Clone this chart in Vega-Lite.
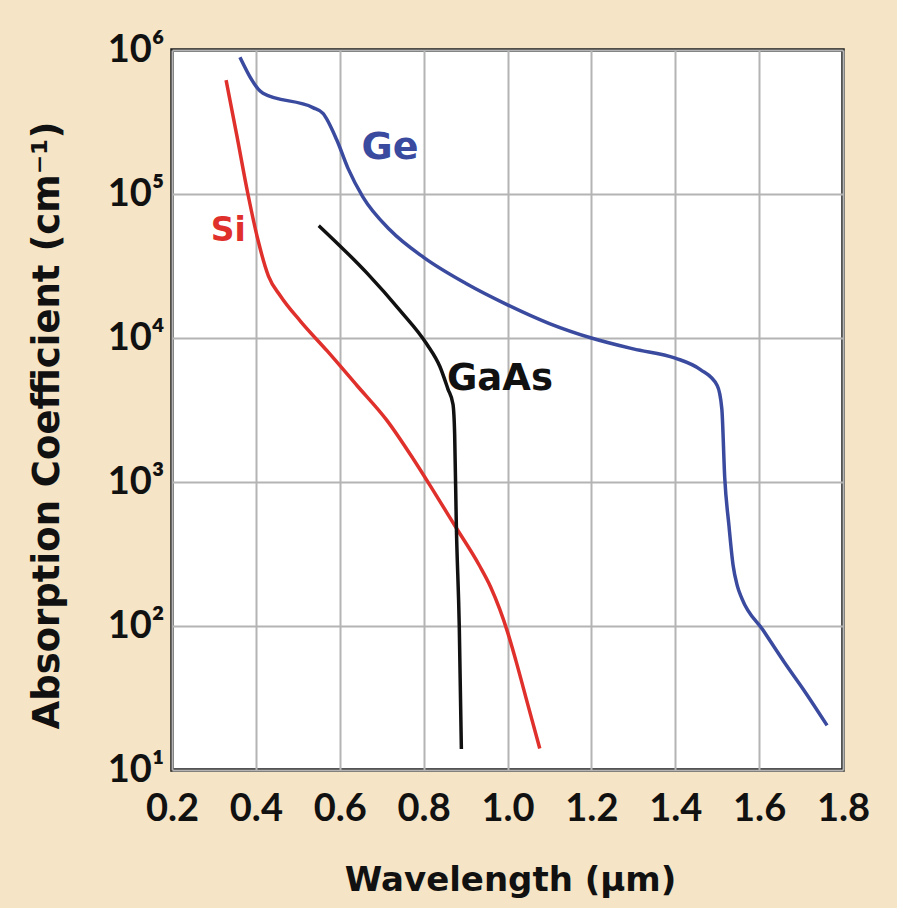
{
  "$schema": "https://vega.github.io/schema/vega-lite/v6.json",
  "width": 671,
  "height": 720,
  "autosize": {"type": "none"},
  "padding": {"left": 172, "top": 50, "right": 54, "bottom": 138},
  "background": "#f5e4c5",
  "config": {
    "view": {"stroke": "#1c1c1c", "strokeWidth": 3.5, "fill": "white"},
    "font": "Lato",
    "axis": {
      "domain": false,
      "ticks": false,
      "gridColor": "#b4b4b4",
      "gridWidth": 2,
      "labelFont": "Lato",
      "labelFontWeight": "bold",
      "labelColor": "#111111",
      "labelFlush": false,
      "labelOverlap": false,
      "titleFont": "DejaVu Sans",
      "titleFontWeight": "bold",
      "titleColor": "#111111"
    }
  },
  "datasets": {
    "curves": [
      {"material": "Ge", "wl": 0.362, "alpha": 891000},
      {"material": "Ge", "wl": 0.417, "alpha": 501000},
      {"material": "Ge", "wl": 0.536, "alpha": 398000},
      {"material": "Ge", "wl": 0.56, "alpha": 363000},
      {"material": "Ge", "wl": 0.593, "alpha": 237000},
      {"material": "Ge", "wl": 0.62, "alpha": 150000},
      {"material": "Ge", "wl": 0.655, "alpha": 95500},
      {"material": "Ge", "wl": 0.72, "alpha": 56200},
      {"material": "Ge", "wl": 0.8, "alpha": 36300},
      {"material": "Ge", "wl": 0.9, "alpha": 24000},
      {"material": "Ge", "wl": 1.0, "alpha": 17000},
      {"material": "Ge", "wl": 1.1, "alpha": 12600},
      {"material": "Ge", "wl": 1.2, "alpha": 10000},
      {"material": "Ge", "wl": 1.3, "alpha": 8400},
      {"material": "Ge", "wl": 1.4, "alpha": 7250},
      {"material": "Ge", "wl": 1.46, "alpha": 6030},
      {"material": "Ge", "wl": 1.5, "alpha": 4680},
      {"material": "Ge", "wl": 1.511, "alpha": 3240},
      {"material": "Ge", "wl": 1.518, "alpha": 1070},
      {"material": "Ge", "wl": 1.528, "alpha": 500},
      {"material": "Ge", "wl": 1.538, "alpha": 263},
      {"material": "Ge", "wl": 1.548, "alpha": 190},
      {"material": "Ge", "wl": 1.559, "alpha": 155},
      {"material": "Ge", "wl": 1.61, "alpha": 93},
      {"material": "Ge", "wl": 1.66, "alpha": 56},
      {"material": "Ge", "wl": 1.71, "alpha": 34.7},
      {"material": "Ge", "wl": 1.762, "alpha": 20.4},
      {"material": "Si", "wl": 0.329, "alpha": 617000},
      {"material": "Si", "wl": 0.355, "alpha": 251000},
      {"material": "Si", "wl": 0.381, "alpha": 100000},
      {"material": "Si", "wl": 0.405, "alpha": 47900},
      {"material": "Si", "wl": 0.43, "alpha": 26900},
      {"material": "Si", "wl": 0.459, "alpha": 19500},
      {"material": "Si", "wl": 0.507, "alpha": 13000},
      {"material": "Si", "wl": 0.57, "alpha": 8130},
      {"material": "Si", "wl": 0.641, "alpha": 4680},
      {"material": "Si", "wl": 0.712, "alpha": 2690},
      {"material": "Si", "wl": 0.775, "alpha": 1450},
      {"material": "Si", "wl": 0.823, "alpha": 871},
      {"material": "Si", "wl": 0.878, "alpha": 479},
      {"material": "Si", "wl": 0.933, "alpha": 263},
      {"material": "Si", "wl": 0.96, "alpha": 186},
      {"material": "Si", "wl": 0.981, "alpha": 132},
      {"material": "Si", "wl": 1.0, "alpha": 91},
      {"material": "Si", "wl": 1.02, "alpha": 57.5},
      {"material": "Si", "wl": 1.048, "alpha": 28.8},
      {"material": "Si", "wl": 1.077, "alpha": 14.1},
      {"material": "GaAs", "wl": 0.55, "alpha": 60300},
      {"material": "GaAs", "wl": 0.665, "alpha": 28200},
      {"material": "GaAs", "wl": 0.744, "alpha": 15500},
      {"material": "GaAs", "wl": 0.807, "alpha": 9120},
      {"material": "GaAs", "wl": 0.839, "alpha": 6310},
      {"material": "GaAs", "wl": 0.858, "alpha": 4420},
      {"material": "GaAs", "wl": 0.87, "alpha": 3470},
      {"material": "GaAs", "wl": 0.874, "alpha": 2140},
      {"material": "GaAs", "wl": 0.878, "alpha": 501},
      {"material": "GaAs", "wl": 0.885, "alpha": 100},
      {"material": "GaAs", "wl": 0.89, "alpha": 14}
    ],
    "labels": [
      {"material": "Ge", "wl": 0.72, "alpha": 210000, "size": 38},
      {"material": "Si", "wl": 0.334, "alpha": 55000, "size": 33},
      {"material": "GaAs", "wl": 0.982, "alpha": 5200, "size": 37}
    ]
  },
  "layer": [
    {
      "data": {"name": "curves"},
      "mark": {"type": "line", "strokeWidth": 3.5, "interpolate": "monotone"},
      "encoding": {
        "x": {
          "field": "wl",
          "type": "quantitative",
          "scale": {"domain": [0.2, 1.8], "nice": false, "zero": false},
          "axis": {
            "values": [0.2, 0.4, 0.6, 0.8, 1.0, 1.2, 1.4, 1.6, 1.8],
            "format": ".1f",
            "labelFontSize": 38,
            "labelPadding": 20,
            "title": "Wavelength (μm)",
            "titleFontSize": 34,
            "titleX": 338,
            "titleY": 120,
            "titleAlign": "center",
            "titleBaseline": "alphabetic"
          }
        },
        "y": {
          "field": "alpha",
          "type": "quantitative",
          "scale": {"type": "log", "domain": [10, 1000000], "nice": false},
          "axis": {
            "values": [10, 100, 1000, 10000, 100000, 1000000],
            "labelExpr": "{'10':'10¹','100':'10²','1000':'10³','10000':'10⁴','100000':'10⁵','1000000':'10⁶'}[datum.value]",
            "labelFontSize": 38,
            "labelPadding": 8,
            "title": "Absorption Coefficient (cm⁻¹)",
            "titleFontSize": 37,
            "titleAngle": -90,
            "titleX": -125,
            "titleY": 375,
            "titleAlign": "center",
            "titleBaseline": "middle"
          }
        },
        "color": {
          "field": "material",
          "type": "nominal",
          "scale": {"domain": ["Ge", "Si", "GaAs"], "range": ["#3a4a9e", "#e0302c", "#111111"]},
          "legend": null
        }
      }
    },
    {
      "data": {"name": "labels"},
      "mark": {"type": "text", "font": "DejaVu Sans", "fontWeight": "bold", "align": "center", "baseline": "middle"},
      "encoding": {
        "x": {"field": "wl", "type": "quantitative"},
        "y": {"field": "alpha", "type": "quantitative"},
        "text": {"field": "material"},
        "size": {"field": "size", "type": "quantitative", "scale": null},
        "color": {
          "field": "material",
          "type": "nominal",
          "scale": {"domain": ["Ge", "Si", "GaAs"], "range": ["#3a4a9e", "#e0302c", "#111111"]},
          "legend": null
        }
      }
    }
  ]
}
